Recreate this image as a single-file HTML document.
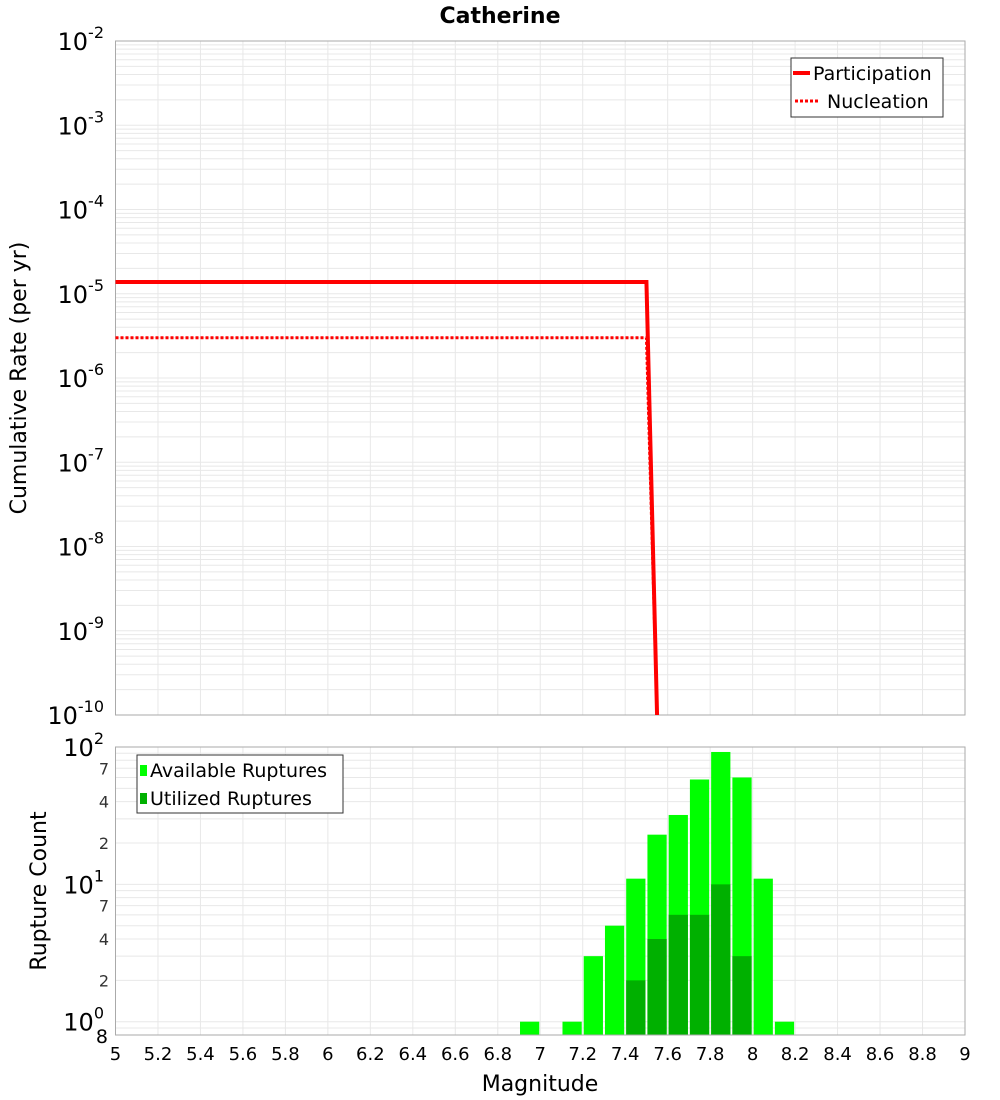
<!DOCTYPE html>
<html><head><meta charset="utf-8"><style>
html,body{margin:0;padding:0;background:#fff;}
svg{display:block;font-family:"DejaVu Sans","Liberation Sans",sans-serif;}
</style></head><body>
<svg id="chart" width="1000" height="1100" viewBox="0 0 1000 1100" xmlns="http://www.w3.org/2000/svg">
<rect width="1000" height="1100" fill="#fff"/>
<text x="500" y="23" text-anchor="middle" font-size="22" font-weight="bold">Catherine</text>
<g id="top"></g><g id="bot"></g>
<text transform="translate(26,378) rotate(-90)" text-anchor="middle" font-size="22">Cumulative Rate (per yr)</text>
<text transform="translate(46,891) rotate(-90)" text-anchor="middle" font-size="22">Rupture Count</text>
<text x="540" y="1091" text-anchor="middle" font-size="22">Magnitude</text>
</svg>
<script>
// top chart data
const rateMags = [5.0, 7.5, 7.55];
const participation = [1.38e-5, 1.38e-5, 1e-10];
const nucleation = [3.0e-6, 3.0e-6, 1e-10];
// bottom chart data
const binCenters = [6.95,7.15,7.25,7.35,7.45,7.55,7.65,7.75,7.85,7.95,8.05,8.15];
const available = [1,1,3,5,11,23,32,58,92,60,11,1];
const utilized =  [0,0,0,0,2,4,6,6,10,3,0,0];
const xTicks = [5,5.2,5.4,5.6,5.8,6,6.2,6.4,6.6,6.8,7,7.2,7.4,7.6,7.8,8,8.2,8.4,8.6,8.8,9];

const NS="http://www.w3.org/2000/svg";
const L=115.5,R=965;
const x=m=>L+(m-5)/4*(R-L);
const T1=41,B1=715;
const yTop=v=>T1+(-2-Math.log10(v))/8*(B1-T1);
const T2=747,B2=1035,lo=Math.log10(0.8),hi=2;
const yBot=v=>B2-(Math.log10(v)-lo)/(hi-lo)*(B2-T2);
function el(p,t,a){const e=document.createElementNS(NS,t);for(const k in a)e.setAttribute(k,a[k]);p.appendChild(e);return e;}
const topG=document.getElementById('top'),botG=document.getElementById('bot');

// top plot
el(topG,'rect',{x:L,y:T1,width:R-L,height:B1-T1,fill:'#fff'});
const tg=el(topG,'g',{});


for(let d=-10;d<-2;d++)for(let k=1;k<10;k++){const yy=yTop(k*Math.pow(10,d));el(tg,'line',{x1:L,x2:R,y1:yy,y2:yy,stroke:'#e8e8e8','stroke-width':1});}
xTicks.forEach(m=>el(tg,'line',{x1:x(m),x2:x(m),y1:T1,y2:B1,stroke:'#e8e8e8'}));
el(topG,'rect',{x:L,y:T1,width:R-L,height:B1-T1,fill:'none',stroke:'#aaa'});
for(let d=-2;d>=-10;d--){const t=el(topG,'text',{x:104,y:yTop(Math.pow(10,d))+9,'text-anchor':'end','font-size':24});


t.appendChild(document.createTextNode('10'));
const s=el(t,'tspan',{dy:-12,'font-size':16});s.textContent=String(d);}
const cp=el(topG,'clipPath',{id:'c1'});el(cp,'rect',{x:L,y:T1,width:R-L,height:B1-T1});
function line(vals,dash,name){const p=el(topG,'polyline',{points:rateMags.map((m,i)=>x(m)+','+yTop(vals[i])).join(' '),fill:'none',stroke:'#f00','stroke-width':dash?3:4,'stroke-dasharray':dash?'3,2':'none','clip-path':'url(#c1)'});

}
line(participation,false,'participation-line');line(nucleation,true,'nucleation-line');
const lg=el(topG,'g',{});


el(lg,'rect',{x:791,y:58,width:152,height:59,fill:'#fff',stroke:'#333'});
el(lg,'line',{x1:793,x2:810,y1:73,y2:73,stroke:'#f00','stroke-width':4});
el(lg,'text',{x:813,y:80,'font-size':19}).textContent='Participation';
el(lg,'line',{x1:795,x2:820,y1:101,y2:101,stroke:'#f00','stroke-width':3,'stroke-dasharray':'3,2'});
el(lg,'text',{x:827,y:108,'font-size':19}).textContent='Nucleation';

// bottom plot
const bg=el(botG,'g',{});


for(let d=-1;d<2;d++)for(let k=1;k<10;k++){const v=k*Math.pow(10,d);if(v<0.8)continue;const yy=yBot(v);el(bg,'line',{x1:L,x2:R,y1:yy,y2:yy,stroke:'#e8e8e8'});}
xTicks.forEach(m=>el(bg,'line',{x1:x(m),x2:x(m),y1:T2,y2:B2,stroke:'#e8e8e8'}));
const w=(x(0.1)-x(0));
binCenters.forEach((c,i)=>{
 if(available[i]>0){const r=el(botG,'rect',{x:x(c)-w/2+1,y:yBot(available[i]),width:w-2,height:B2-yBot(available[i]),fill:'#00ff00'});
 
 }
 if(utilized[i]>0){const r=el(botG,'rect',{x:x(c)-w/2+1,y:yBot(utilized[i]),width:w-2,height:B2-yBot(utilized[i]),fill:'#00b000'});
 
 }
});
el(botG,'rect',{x:L,y:T2,width:R-L,height:B2-T2,fill:'none',stroke:'#aaa'});
[[100,'2'],[10,'1'],[1,'0']].forEach(([v,e])=>{const t=el(botG,'text',{x:104,y:yBot(v)+9,'text-anchor':'end','font-size':24});


t.appendChild(document.createTextNode('10'));
const s=el(t,'tspan',{dy:-12,'font-size':16});s.textContent=e;});
[[70,'7'],[40,'4'],[20,'2'],[7,'7'],[4,'4'],[2,'2']].forEach(([v,s])=>{const t=el(botG,'text',{x:109,y:yBot(v)+6,'text-anchor':'end','font-size':16,fill:'#333'});


t.textContent=s;});
const e8=el(botG,'text',{x:108,y:1043,'text-anchor':'end','font-size':19});


e8.textContent='8';
xTicks.forEach(m=>{const t=el(botG,'text',{x:x(m),y:1060,'text-anchor':'middle','font-size':18});


t.textContent=String(m);});
const lg2=el(botG,'g',{});


el(lg2,'rect',{x:137,y:755,width:206,height:58,fill:'#fff',stroke:'#333'});
el(lg2,'rect',{x:140,y:765,width:7,height:11,fill:'#00ff00'});
el(lg2,'text',{x:150,y:777,'font-size':19}).textContent='Available Ruptures';
el(lg2,'rect',{x:140,y:793,width:7,height:11,fill:'#00b000'});
el(lg2,'text',{x:150,y:805,'font-size':19}).textContent='Utilized Ruptures';
</script>
</body></html>
